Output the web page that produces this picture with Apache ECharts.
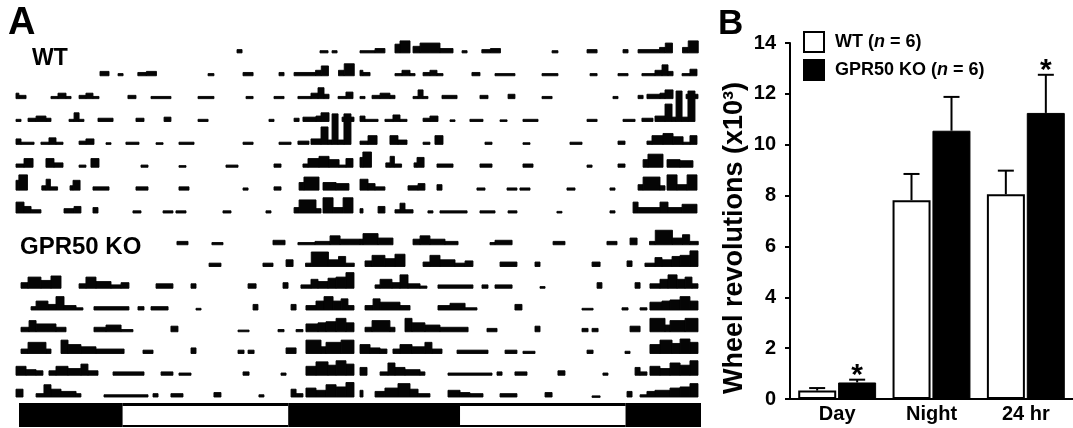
<!DOCTYPE html>
<html><head><meta charset="utf-8">
<script src="https://cdn.jsdelivr.net/npm/echarts@6/dist/echarts.min.js"></script>
<style>html,body{margin:0;padding:0;background:#fff}#c{width:1073px;height:428px}</style>
</head><body><div id="c"></div>
<script>
// ===== Panel A: double-plotted actogram. Each day = list of [startHour, endHour, activity] =====
const wt0 = [[15.42,15.77,3],[21.21,21.77,2],[22.05,22.40,2]];
const wt1 = [[0,1.05,2],[1.05,1.74,4],[2.44,2.79,8],[2.79,3.49,11],[3.70,4.19,6],[4.19,5.58,9],[5.58,6.49,4],[7.12,7.47,2],[8.5,9.1,3],[9.1,9.8,4],[13.40,13.81,2],[15.84,16.54,3],[18.35,18.70,3],[19.4,20.9,3],[20.9,21.3,5],[21.3,21.8,9],[22.5,22.9,5],[22.9,23.6,11]];
const wt2 = [[0,0.2,5],[0.2,0.7,3],[2.44,2.93,2],[2.93,3.49,5],[3.49,3.84,2],[4.40,4.88,3],[4.88,5.37,5],[5.37,5.79,2],[7.81,8.37,3],[9.42,10.81,2],[12.70,13.81,2],[16.05,16.54,2],[18.00,18.70,2],[19.67,20.58,2],[20.58,21.07,5],[21.07,21.49,10],[21.49,21.84,4],[22.47,23.02,2],[23.02,23.51,6]];
const wt3 = [[0,0.35,2],[0.84,1.40,3],[1.40,2.09,5],[2.09,2.44,3],[3.70,4.05,2],[4.05,4.40,8],[4.40,4.74,2],[5.72,6.77,3],[8.37,8.93,3],[10.33,10.81,4],[12.70,13.40,2],[17.65,18.00,2],[19.40,19.75,3],[20.02,20.93,4],[20.93,21.28,5],[21.28,21.84,8],[22.75,23.0,4],[23.37,23.58,4]];
const wt4 = [[0,0.35,5],[0.35,1.26,2],[1.74,2.30,2],[2.30,2.79,6],[2.79,3.28,2],[4.40,4.88,3],[4.88,5.44,5],[6.28,6.63,1.5],[7.67,8.58,2],[9.77,10.26,1.5],[11.37,12.42,2],[15.84,16.54,2],[18.35,19.19,2],[19.67,20.44,3],[20.58,21.28,5],[21.28,21.77,16],[21.77,22.05,4],[22.05,22.47,28],[22.47,22.88,4],[22.88,23.37,28]];
const wt5 = [[0,0.56,3],[0.56,1.19,8],[2.09,2.65,8],[2.65,3.28,4],[4.40,4.88,2],[5.23,5.79,8],[8.72,9.21,2],[11.37,11.86,1.5],[14.65,15.49,2],[18.00,18.49,3],[20.02,20.37,3],[20.37,21.14,8],[21.14,21.84,10],[21.84,22.54,7],[22.54,23.02,2],[23.02,23.51,8]];
const wt6 = [[0,0.2,9],[0.2,0.8,14],[1.8,2.1,4],[2.1,2.4,10],[2.4,2.9,3],[3.77,3.98,4],[3.98,4.47,9],[5.37,6.49,3],[8.37,9.21,3],[11.37,12.07,3],[15.84,16.19,2],[18.00,18.49,3],[19.75,20.09,7],[20.09,21.14,12],[21.42,22.33,7],[22.33,23.23,6]];
const wt7 = [[0,0.56,10],[0.56,1.05,6],[1.05,1.74,3],[3.35,4.05,4],[4.05,4.53,6],[5.37,5.72,5],[8.16,8.72,2],[10.26,10.95,2],[11.16,11.86,2],[14.44,15.00,2],[17.44,17.79,2],[19.40,19.75,5],[19.75,20.93,12],[20.93,21.28,4],[21.42,22.12,14],[22.12,22.82,5],[22.82,23.51,14]];
const wt8 = [[0,0.21,4],[1.26,1.74,6],[2.44,2.79,3],[2.79,3.14,9],[3.14,3.70,3],[4.74,5.09,2],[5.58,7.47,2],[8.37,9.42,2],[10.33,10.95,2],[13.74,14.09,1.5],[17.44,17.79,2],[19.05,19.40,10],[19.40,20.93,5],[20.93,21.49,10],[21.49,22.47,5],[22.47,23.51,8]];

const ko0 = [[11.23,12.00,3],[13.67,14.44,2],[17.93,18.77,4],[19.67,20.86,2],[20.86,21.91,3],[21.91,22.61,8],[22.61,24.0,5]];
const ko1 = [[0,0.21,5],[0.21,1.26,10],[1.26,2.30,6],[3.70,4.19,5],[4.19,4.88,8],[4.88,5.93,5],[5.93,6.84,3],[9.07,9.42,2],[9.42,10.61,4],[13.47,14.30,3],[17.23,17.93,3],[18.84,19.33,6],[20.2,20.6,3],[20.6,21.8,13],[21.8,22.5,6],[22.5,23.0,9],[23.0,23.6,3]];
const ko2 = [[0.35,0.84,5],[0.84,1.74,10],[1.74,2.44,7],[2.44,3.14,11],[4.40,4.88,4],[4.88,5.58,10],[5.58,6.63,6],[6.63,7.33,3],[7.33,7.88,5],[9.77,10.95,4],[12.21,12.56,4],[16.19,16.75,4],[18.63,18.98,5],[19.88,20.58,3],[20.58,21.07,8],[21.07,21.77,6],[21.77,22.33,9],[22.33,23.02,10],[23.02,23.58,14]];
const ko3 = [[1.05,1.40,3],[1.40,2.23,8],[2.23,2.79,5],[2.79,3.35,12],[3.35,4.19,4],[4.19,4.67,2],[5.44,7.88,3],[8.51,8.93,3],[9.42,10.61,3],[12.56,12.91,1.5],[16.54,16.88,5],[19.19,19.54,5],[20.23,20.93,4],[20.93,21.49,8],[21.49,22.12,12],[22.12,22.68,8],[22.68,23.16,10],[23.16,23.58,4]];
const ko4 = [[0.35,0.91,4],[0.91,1.40,10],[1.40,2.79,7],[2.79,3.49,4],[5.44,6.28,4],[6.28,7.33,6],[7.33,8.16,2],[10.81,11.30,5],[15.49,16.26,1.5],[18.28,18.70,2],[19.54,20.02,2],[20.23,21.07,7],[21.07,21.63,8],[21.63,22.33,9],[22.33,23.02,12],[23.02,23.58,8]];
const ko5 = [[0.35,0.84,4],[0.84,2.09,10],[2.09,2.44,4],[3.14,3.63,12],[3.63,4.53,8],[4.53,5.58,6],[5.58,7.54,4],[8.86,9.56,3],[12.21,12.56,5],[15.49,15.91,3],[16.19,16.61,3],[18.84,19.54,5],[20.23,21.28,12],[21.28,21.63,6],[21.63,22.68,10],[22.68,23.58,12]];
const ko6 = [[0,0.70,8],[0.70,1.40,5],[1.40,1.88,4],[2.30,2.79,4],[2.79,3.63,8],[3.63,4.53,6],[4.53,5.02,10],[5.02,5.72,4],[6.77,8.93,3],[10.12,10.95,3],[11.37,12.21,2],[15.84,16.26,3],[18.49,18.84,2],[20.23,20.93,8],[20.93,21.77,12],[21.77,22.33,9],[22.33,23.02,13],[23.02,23.58,10]];
const ko7 = [[0,0.49,7],[1.40,1.95,3],[1.95,2.44,11],[2.44,3.14,7],[3.14,4.19,5],[4.19,4.53,3],[6.14,9.21,2],[9.56,9.91,3],[10.81,11.65,3],[13.81,14.30,4],[16.95,17.30,2],[19.19,19.54,7],[19.54,20.02,3],[20.23,20.93,8],[20.93,21.63,6],[21.63,22.33,11],[22.33,23.02,9],[23.02,23.58,13]];
const ko8 = [[0,0.21,6],[1.05,1.74,5],[1.74,2.65,8],[2.65,3.49,12],[3.49,4.05,7],[4.05,4.88,3],[6.14,6.98,6],[6.98,7.67,4],[7.67,8.58,3],[9.77,10.95,3],[12.91,13.40,4],[16.19,16.75,1],[18.63,18.98,5],[19.54,20.02,2],[20.02,20.58,5],[20.58,21.63,6],[21.63,22.33,8],[22.33,23.02,9],[23.02,23.58,12]];

// hour from which the left half of each row is shown
const wtRowStart = [0, 5.86, 0, 0, 0, 0, 0, 0];
const koRowStart = [0, 13.0, 0, 0, 0, 0, 0, 0];

// light/dark bar (hours over the 48 h double plot)
const ldStart = [0, 7.30, 18.95, 31.04, 42.70];
const ldEnd   = [7.30, 18.95, 31.04, 42.70, 48];
const ldLight = [0, 1, 0, 1, 0];

// ===== Panel B =====
const categories = ['Day', 'Night', '24 hr'];
const wtMean = [0.33, 7.82, 8.05];
const wtSem  = [0.10, 1.03, 0.93];
const koMean = [0.65, 10.55, 11.25];
const koSem  = [0.11, 1.33, 1.50];
const koSig  = ['*', '', '*'];
const yTicks = [0, 2, 4, 6, 8, 10, 12, 14];
const yTitle = 'Wheel revolutions (x10³)';

const FONT = '"Liberation Sans", Arial, Helvetica, sans-serif';

function buildRows(days, rowStart) {
  const out = [];
  for (let r = 0; r < days.length - 1; r++) {
    days[r].forEach(b => {
      const s = Math.max(b[0], rowStart[r]);
      if (b[1] > s) out.push([r, s, b[1], b[2]]);
    });
    days[r + 1].forEach(b => out.push([r, b[0] + 24, b[1] + 24, b[2]]));
  }
  return out;
}
const wtData = buildRows([wt0, wt1, wt2, wt3, wt4, wt5, wt6, wt7, wt8], wtRowStart);
const koData = buildRows([ko0, ko1, ko2, ko3, ko4, ko5, ko6, ko7, ko8], koRowStart);

function boutRenderer(cap) {
  return function (params, api) {
    const r = api.value(0), s = api.value(1), e = api.value(2), h = api.value(3);
    const a = api.coord([s, r + 1]);
    const b = api.coord([e, r + 1 - h / cap]);
    return {
      type: 'rect',
      shape: { x: a[0], y: b[1], width: Math.max(b[0] - a[0], 1.2), height: Math.max(a[1] - b[1], 1.5) },
      style: { fill: '#050505', stroke: '#050505', lineWidth: 0.9 }
    };
  };
}

const ldData = ldStart.map((s, i) => [s, ldEnd[i], ldLight[i]]);
function ldRenderer(params, api) {
  const a = api.coord([api.value(0), 0]);
  const b = api.coord([api.value(1), 1]);
  const children = [{ type: 'rect', shape: { x: a[0], y: b[1], width: b[0] - a[0], height: a[1] - b[1] }, style: { fill: '#000' } }];
  if (api.value(2) === 1) {
    children.push({ type: 'rect', shape: { x: a[0], y: b[1] + 3, width: b[0] - a[0], height: a[1] - b[1] - 5 }, style: { fill: '#fff' } });
  }
  return { type: 'group', children };
}

const errData = [];
categories.forEach((c, i) => {
  errData.push([i, wtMean[i], wtSem[i], -1, '']);
  errData.push([i, koMean[i], koSem[i], 1, koSig[i]]);
});
function errRenderer(params, api) {
  const i = api.value(0), m = api.value(1), se = api.value(2), side = api.value(3);
  const sig = errData[params.dataIndex][4];
  const p = api.coord([i, m]);
  const t = api.coord([i, m + se]);
  const x = p[0] + side * 20;
  const children = [
    { type: 'line', shape: { x1: x, y1: p[1], x2: x, y2: t[1] }, style: { stroke: '#000', lineWidth: 2 } },
    { type: 'line', shape: { x1: x - 8, y1: t[1], x2: x + 8, y2: t[1] }, style: { stroke: '#000', lineWidth: 2 } }
  ];
  if (sig) {
    children.push({ type: 'text', x: x, y: t[1] - 4, style: { text: sig, font: 'bold 30px ' + FONT, fill: '#000', align: 'center', verticalAlign: 'middle' } });
  }
  return { type: 'group', children };
}

const chart = echarts.init(document.getElementById('c'), null, { renderer: 'canvas' });
const hiddenX = { type: 'value', min: 0, max: 48, show: false };
chart.setOption({
  animation: false,
  backgroundColor: '#fff',
  textStyle: { fontFamily: FONT },
  grid: [
    { left: 16, top: 30, width: 688, height: 183 },
    { left: 16, top: 223, width: 688, height: 174 },
    { left: 19, top: 403, width: 682, height: 24 },
    { left: 790, top: 43, width: 283, height: 356 }
  ],
  xAxis: [
    Object.assign({ gridIndex: 0 }, hiddenX),
    Object.assign({ gridIndex: 1 }, hiddenX),
    Object.assign({ gridIndex: 2 }, hiddenX),
    {
      gridIndex: 3, type: 'category', data: categories,
      axisLine: { lineStyle: { color: '#000', width: 2 } },
      axisTick: { show: false },
      axisLabel: { color: '#000', fontWeight: 'bold', fontSize: 20, fontFamily: FONT, margin: 5 }
    }
  ],
  yAxis: [
    { gridIndex: 0, type: 'value', min: 0, max: 8, inverse: true, show: false },
    { gridIndex: 1, type: 'value', min: 0, max: 8, inverse: true, show: false },
    { gridIndex: 2, type: 'value', min: 0, max: 1, show: false },
    {
      gridIndex: 3, type: 'value', min: 0, max: 14, interval: 2,
      axisLine: { show: true, lineStyle: { color: '#000', width: 2 } },
      axisTick: { show: true, length: 5, lineStyle: { color: '#000', width: 2 } },
      axisLabel: { color: '#000', fontWeight: 'bold', fontSize: 20, fontFamily: FONT, margin: 14,
        formatter: v => (yTicks.indexOf(v) >= 0 ? String(v) : '') },
      splitLine: { show: false }
    }
  ],
  legend: {
    data: ['WT', 'GPR50 KO'], orient: 'vertical', left: 803, top: 31,
    itemWidth: 20, itemHeight: 20, itemGap: 6, icon: 'rect', padding: 0,
    textStyle: { color: '#000', fontWeight: 'bold', fontSize: 18, fontFamily: FONT, padding: [0, 0, 0, 6],
      rich: { i: { fontStyle: 'italic', fontWeight: 'bold', fontSize: 18, fontFamily: FONT, color: '#000' } } },
    formatter: name => name + ' ({i|n} = 6)'
  },
  graphic: [
    { type: 'text', x: 8, y: 24, style: { text: 'A', font: 'bold 38px ' + FONT, fill: '#000', verticalAlign: 'middle' } },
    { type: 'text', x: 718, y: 24, style: { text: 'B', font: 'bold 35px ' + FONT, fill: '#000', verticalAlign: 'middle' } },
    { type: 'text', x: 32, y: 59, style: { text: 'WT', font: 'bold 23px ' + FONT, fill: '#000', verticalAlign: 'middle' } },
    { type: 'text', x: 20, y: 247, style: { text: 'GPR50 KO', font: 'bold 24px ' + FONT, fill: '#000', verticalAlign: 'middle' } },
    { type: 'text', x: 735, y: 238, rotation: Math.PI / 2,
      style: { text: yTitle, font: 'bold 27px ' + FONT, fill: '#000', align: 'center', verticalAlign: 'middle' } }
  ],
  series: [
    { type: 'custom', xAxisIndex: 0, yAxisIndex: 0, renderItem: boutRenderer(21), data: wtData, encode: { x: [1, 2], y: 0 }, clip: false, silent: true },
    { type: 'custom', xAxisIndex: 1, yAxisIndex: 1, renderItem: boutRenderer(19.5), data: koData, encode: { x: [1, 2], y: 0 }, clip: false, silent: true },
    { type: 'custom', xAxisIndex: 2, yAxisIndex: 2, renderItem: ldRenderer, data: ldData, encode: { x: [0, 1] }, clip: false, silent: true },
    { name: 'WT', type: 'bar', xAxisIndex: 3, yAxisIndex: 3, data: wtMean, barWidth: 38, barGap: '5%',
      itemStyle: { color: '#fff', borderColor: '#000', borderWidth: 2 } },
    { name: 'GPR50 KO', type: 'bar', xAxisIndex: 3, yAxisIndex: 3, data: koMean, barWidth: 38, barGap: '5%',
      itemStyle: { color: '#000', borderColor: '#000', borderWidth: 1 } },
    { type: 'custom', xAxisIndex: 3, yAxisIndex: 3, renderItem: errRenderer, data: errData.map(d => d.slice(0, 4)), encode: { x: 0, y: 1 }, clip: false, silent: true, z: 5 }
  ]
});
</script></body></html>
